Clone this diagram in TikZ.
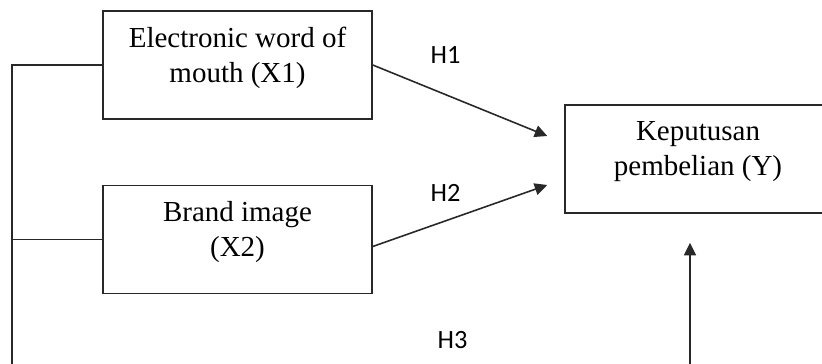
\documentclass[tikz,border=0pt]{standalone}
\usepackage{fontspec}
\setmainfont{Liberation Serif}
\newfontfamily\labelfont{Carlito}
\usepackage{tikz}
\usetikzlibrary{arrows.meta,positioning,calc}
\definecolor{linegray}{RGB}{40,40,40}

\tikzset{
    varbox/.style={rectangle,draw=linegray,line width=0.9pt,minimum width=5.38cm,minimum height=2.16cm,align=center,
        text depth=12pt,font=\fontsize{16.5}{19.8}\selectfont},
    hyplabel/.style={font=\labelfont\fontsize{15}{18}\selectfont,inner sep=0pt},
    pathline/.style={draw=linegray,line width=0.9pt},
    arrowline/.style={pathline,-{Triangle[length=0.25cm,width=0.24cm]}}
}

\begin{document}
\begin{tikzpicture}[x=0.02cm,y=-0.02cm]
        % Frame of the picture
        \useasboundingbox (0,0) rectangle (822,364);
        \clip (0,0) rectangle (822,364);

        % Variables
        \node[varbox] (x1) at (237.5,65) {Electronic word of\\ mouth (X1)};
        \node[varbox] (x2) at (237.5,239.5) {Brand image\\ (X2)};
        \node[varbox,minimum width=5.32cm] (y) at (698,159) {Keputusan\\ pembelian (Y)};

        % Hypothesis labels
        \node[hyplabel] (h1) at (445.5,55.5) {H1};
        \node[hyplabel] (h2) at (445.5,192.5) {H2};
        \node[hyplabel] (h3) at (452.5,340) {H3};

        % Connector points
        \coordinate (bustop) at (12,65);
        \coordinate (busbot) at (12,380);
        \coordinate (h1end) at ($(y.west)+(-17,-23)$);
        \coordinate (h2end) at ($(y.west)+(-17,26)$);
        \coordinate (h3end) at ($(y.south)+(-8,29)$);

        % Paths
        \draw[arrowline] (x1.east) -- (h1end);
        \draw[arrowline] ($(x2.east)+(0,7)$) -- (h2end);
        \draw[arrowline] (x1.west) -- (bustop) -- (busbot) -| (h3end);
        \draw[pathline] (x2.west) -- (bustop |- x2.west);
    \end{tikzpicture}
\end{document}
